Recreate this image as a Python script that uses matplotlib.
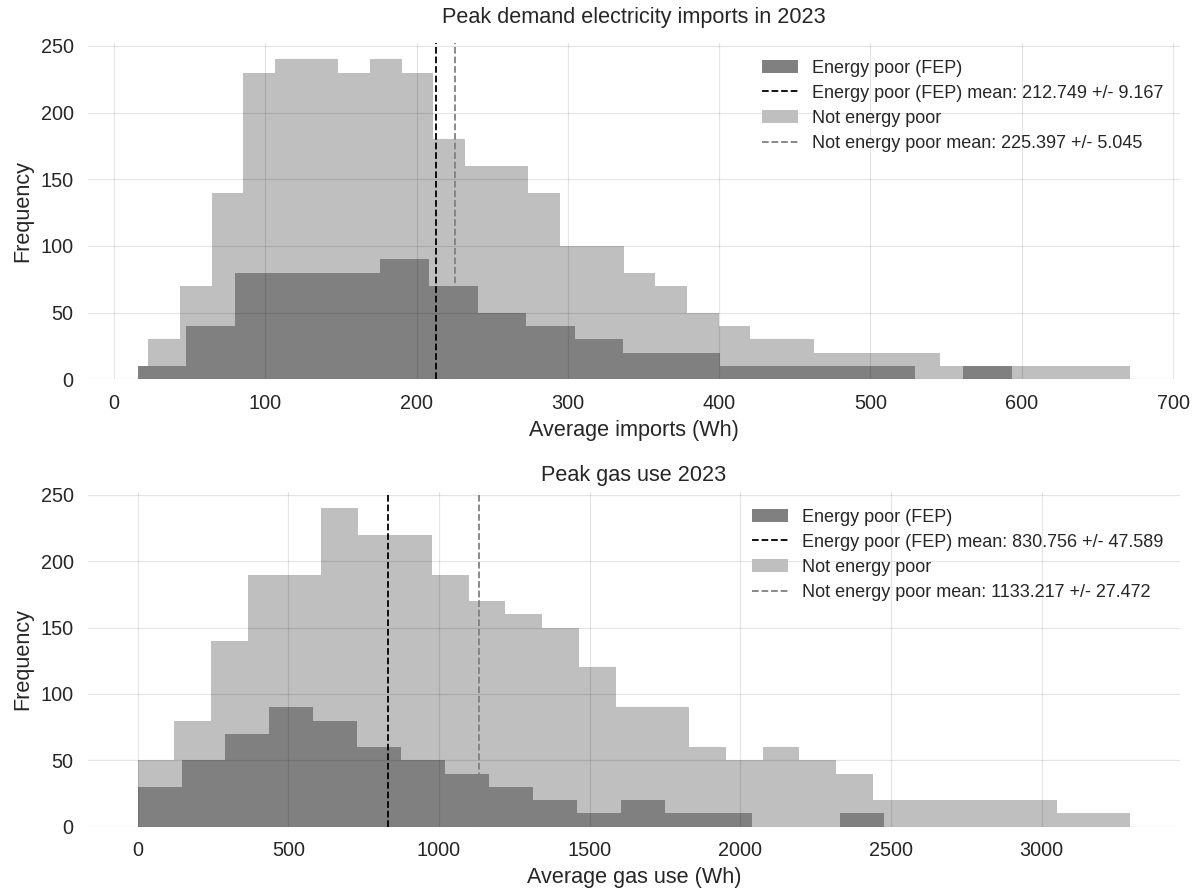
import numpy as np
import matplotlib
matplotlib.use("Agg")
import matplotlib.pyplot as plt

plt.rcParams['font.family'] = ['Liberation Sans', 'DejaVu Sans']
plt.rcParams['text.color'] = '0.15'
plt.rcParams['axes.labelcolor'] = '0.15'
plt.rcParams['xtick.color'] = '0.15'
plt.rcParams['ytick.color'] = '0.15'

# histogram counts, bins span [start, stop] evenly
elec_fep_range = (15.6, 593.4)
elec_fep_counts = [10, 40, 80, 80, 80, 90, 70, 50, 40, 30, 20, 20, 10, 10, 10, 10, 0, 10]
elec_fep_mean, elec_fep_err = 212.749, 9.167

elec_nep_range = (22.7, 671.8)
elec_nep_counts = [30, 70, 140, 230, 240, 240, 230, 240, 230, 180, 160, 160, 140, 100, 100, 80,
                   70, 50, 40, 30, 30, 20, 20, 20, 20, 10, 10, 10, 10, 10, 10]
elec_nep_mean, elec_nep_err = 225.397, 5.045

gas_fep_range = (0, 2477)
gas_fep_counts = [30, 50, 70, 90, 80, 60, 50, 40, 30, 20, 10, 20, 10, 10, 0, 0, 10]
gas_fep_mean, gas_fep_err = 830.756, 47.589

gas_nep_range = (0, 3294)
gas_nep_counts = [50, 80, 140, 190, 190, 240, 220, 220, 190, 170, 160, 150, 120, 90, 90, 60,
                  50, 60, 50, 40, 20, 20, 20, 20, 20, 10, 10]
gas_nep_mean, gas_nep_err = 1133.217, 27.472

DARK = '#808080'
LIGHT = '#bfbfbf'


def draw_hist(ax, rng, counts, color, label, zorder):
    edges = np.linspace(rng[0], rng[1], len(counts) + 1)
    ax.hist(edges[:-1], bins=edges, weights=counts, color=color, label=label, zorder=zorder)


def panel(ax, fep, nep, title, xlabel, title_pad=6):
    (f_rng, f_counts, f_mean, f_err) = fep
    (n_rng, n_counts, n_mean, n_err) = nep
    draw_hist(ax, f_rng, f_counts, DARK, 'Energy poor (FEP)', 2)
    ax.axvline(f_mean, color='black', linestyle='--', linewidth=1.0, zorder=4,
               label=f'Energy poor (FEP) mean: {f_mean:.3f} +/- {f_err:.3f}')
    draw_hist(ax, n_rng, n_counts, LIGHT, 'Not energy poor', 1)
    ax.axvline(n_mean, color='grey', linestyle='--', linewidth=1.0, zorder=4,
               label=f'Not energy poor mean: {n_mean:.3f} +/- {n_err:.3f}')

    ax.set_title(title, fontsize=12, pad=title_pad)
    ax.set_xlabel(xlabel, fontsize=12)
    ax.set_ylabel('Frequency', fontsize=12)
    ax.set_yticks(range(0, 251, 50))
    ax.tick_params(labelsize=11, length=0, pad=8)
    ax.grid(True, color='black', alpha=0.1, linewidth=0.7, zorder=3)
    ax.set_axisbelow(False)
    for s in ax.spines.values():
        s.set_visible(False)
    ax.legend(loc='upper right', frameon=False, fontsize=10, labelspacing=0.45)


fig = plt.figure(figsize=(1197 / 130, 891 / 130), dpi=130)
ax1 = fig.add_axes([0.0735, 0.5743, 0.9123, 0.3771])
ax2 = fig.add_axes([0.0735, 0.0722, 0.9123, 0.3753])

panel(ax1,
      (elec_fep_range, elec_fep_counts, elec_fep_mean, elec_fep_err),
      (elec_nep_range, elec_nep_counts, elec_nep_mean, elec_nep_err),
      'Peak demand electricity imports in 2023', 'Average imports (Wh)', title_pad=11)
ax1.set_xticks(range(0, 701, 100))

panel(ax2,
      (gas_fep_range, gas_fep_counts, gas_fep_mean, gas_fep_err),
      (gas_nep_range, gas_nep_counts, gas_nep_mean, gas_nep_err),
      'Peak gas use 2023', 'Average gas use (Wh)')
ax2.set_xticks(range(0, 3001, 500))

fig.savefig('out.png', dpi=130)
